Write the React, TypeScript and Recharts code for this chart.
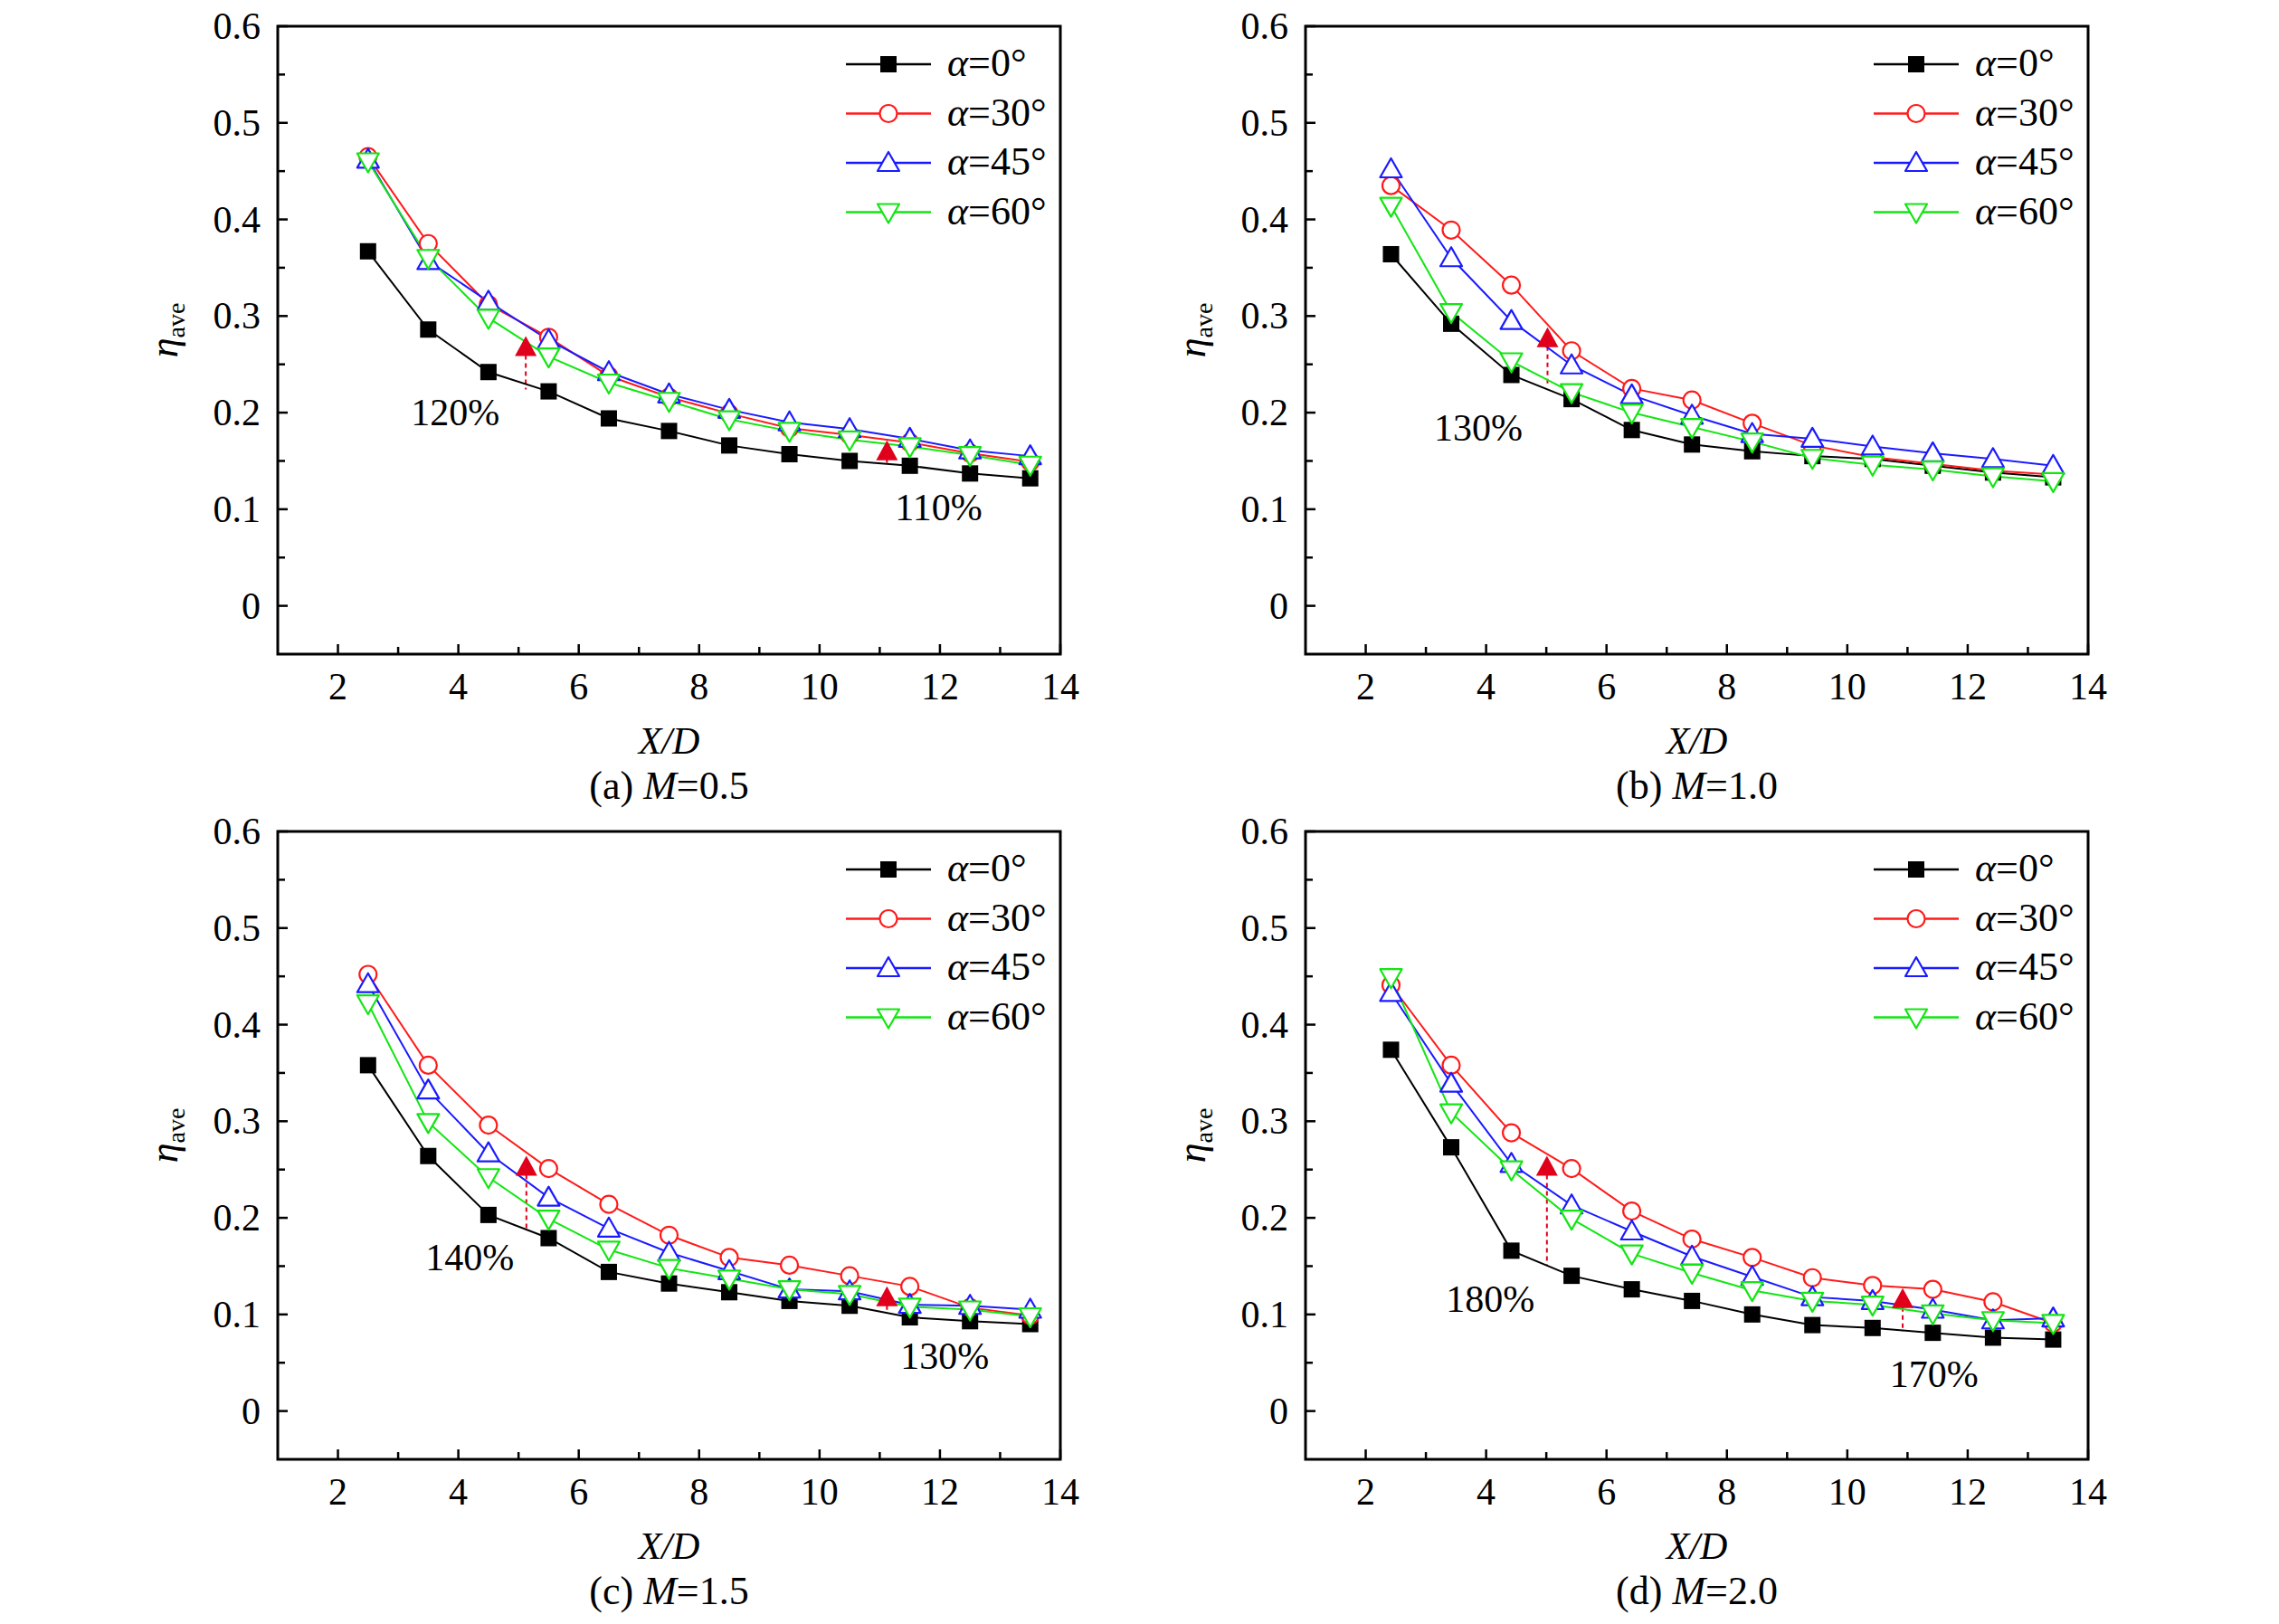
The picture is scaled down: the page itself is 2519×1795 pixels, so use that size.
import React from 'react';
import { LineChart, Line, XAxis, YAxis, ReferenceArea, ReferenceDot, ReferenceLine } from 'recharts';

const FONT = '"Liberation Serif", "Times New Roman", serif';

const SERIES_LABELS = ['=0°', '=30°', '=45°', '=60°'];
const SERIES_COLORS = ['#000000', '#ff1a1a', '#1a1aff', '#12e612'];
const ARROW_RED = '#e0001b';

const X_TICKS = [2, 4, 6, 8, 10, 12, 14];
const X_MINOR = [3, 5, 7, 9, 11, 13];
const Y_TICKS = [0, 0.1, 0.2, 0.3, 0.4, 0.5, 0.6];
const Y_MINOR = [0.05, 0.15, 0.25, 0.35, 0.45, 0.55];

// measuring stations, as plotted
const XD_AC = [2.5, 3.5, 4.5, 5.5, 6.5, 7.5, 8.5, 9.5, 10.5, 11.5, 12.5, 13.5];
const XD_BD = [2.42, 3.42, 4.42, 5.42, 6.42, 7.42, 8.42, 9.42, 10.42, 11.42, 12.42, 13.42];

// (a) M=0.5
const A_ETA0 = [0.367, 0.286, 0.242, 0.222, 0.194, 0.181, 0.166, 0.157, 0.15, 0.145, 0.137, 0.132];
const A_ETA30 = [0.465, 0.375, 0.312, 0.278, 0.238, 0.216, 0.199, 0.184, 0.177, 0.169, 0.158, 0.149];
const A_ETA45 = [0.462, 0.357, 0.315, 0.275, 0.242, 0.219, 0.203, 0.19, 0.183, 0.173, 0.161, 0.155];
const A_ETA60 = [0.46, 0.36, 0.298, 0.258, 0.231, 0.212, 0.193, 0.181, 0.172, 0.165, 0.156, 0.146];

// (b) M=1.0
const B_ETA0 = [0.364, 0.292, 0.239, 0.214, 0.182, 0.167, 0.16, 0.155, 0.152, 0.145, 0.138, 0.133];
const B_ETA30 = [0.435, 0.389, 0.332, 0.264, 0.225, 0.213, 0.189, 0.166, 0.154, 0.147, 0.14, 0.136];
const B_ETA45 = [0.452, 0.36, 0.295, 0.249, 0.218, 0.197, 0.178, 0.173, 0.165, 0.158, 0.152, 0.145];
const B_ETA60 = [0.414, 0.304, 0.253, 0.221, 0.2, 0.185, 0.17, 0.153, 0.146, 0.141, 0.134, 0.129];

// (c) M=1.5
const C_ETA0 = [0.358, 0.264, 0.203, 0.179, 0.144, 0.132, 0.123, 0.114, 0.109, 0.097, 0.093, 0.09];
const C_ETA30 = [0.452, 0.358, 0.296, 0.251, 0.214, 0.182, 0.159, 0.151, 0.14, 0.129, 0.107, 0.099];
const C_ETA45 = [0.442, 0.332, 0.267, 0.221, 0.189, 0.164, 0.145, 0.126, 0.124, 0.11, 0.109, 0.105];
const C_ETA60 = [0.422, 0.299, 0.242, 0.199, 0.167, 0.148, 0.137, 0.126, 0.121, 0.108, 0.105, 0.098];

// (d) M=2.0
const D_ETA0 = [0.374, 0.273, 0.166, 0.14, 0.126, 0.114, 0.1, 0.089, 0.086, 0.081, 0.076, 0.074];
const D_ETA30 = [0.441, 0.358, 0.288, 0.251, 0.207, 0.178, 0.159, 0.138, 0.13, 0.126, 0.113, 0.091];
const D_ETA45 = [0.433, 0.339, 0.256, 0.213, 0.186, 0.16, 0.139, 0.118, 0.114, 0.105, 0.094, 0.096];
const D_ETA60 = [0.449, 0.309, 0.25, 0.199, 0.163, 0.143, 0.125, 0.114, 0.11, 0.101, 0.094, 0.091];

// red arrows: x, arrow head value, foot value
const A_ARROWS = [{ x: 5.12, top: 0.268, bottom: 0.224 }, { x: 11.12, top: 0.16, bottom: 0.148 }];
const B_ARROWS = [{ x: 5.02, top: 0.277, bottom: 0.227 }];
const C_ARROWS = [{ x: 5.13, top: 0.253, bottom: 0.186 }, { x: 11.12, top: 0.118, bottom: 0.102 }];
const D_ARROWS = [{ x: 5.01, top: 0.253, bottom: 0.151 }, { x: 10.92, top: 0.116, bottom: 0.082 }];

const A_NOTES = [{ x: 3.95, y: 0.2, text: '120%' }, { x: 11.98, y: 0.102, text: '110%' }];
const B_NOTES = [{ x: 3.87, y: 0.184, text: '130%' }];
const C_NOTES = [{ x: 4.19, y: 0.159, text: '140%' }, { x: 12.08, y: 0.057, text: '130%' }];
const D_NOTES = [{ x: 4.07, y: 0.116, text: '180%' }, { x: 11.44, y: 0.038, text: '170%' }];

const PANELS = [
  { col: 0, row: 0, tag: '(a)', m: '0.5', xs: XD_AC, eta: [A_ETA0, A_ETA30, A_ETA45, A_ETA60], arrows: A_ARROWS, notes: A_NOTES },
  { col: 1, row: 0, tag: '(b)', m: '1.0', xs: XD_BD, eta: [B_ETA0, B_ETA30, B_ETA45, B_ETA60], arrows: B_ARROWS, notes: B_NOTES },
  { col: 0, row: 1, tag: '(c)', m: '1.5', xs: XD_AC, eta: [C_ETA0, C_ETA30, C_ETA45, C_ETA60], arrows: C_ARROWS, notes: C_NOTES },
  { col: 1, row: 1, tag: '(d)', m: '2.0', xs: XD_BD, eta: [D_ETA0, D_ETA30, D_ETA45, D_ETA60], arrows: D_ARROWS, notes: D_NOTES }
];

const PAGE_W = 2519;
const PAGE_H = 1795;
const COL_STEP = 1136;
const ROW_STEP = 890;
const CHART_LEFT = 100;
const CHART_W = 1150;
const CHART_H = 890;
const PLOT = { left: 307, top: 29, width: 865, height: 694 };
const Y_AXIS_W = 60;
const X_AXIS_H = 40;

const MARGIN = {
  top: PLOT.top,
  left: PLOT.left - CHART_LEFT - Y_AXIS_W,
  right: CHART_W - (PLOT.left - CHART_LEFT) - PLOT.width,
  bottom: CHART_H - PLOT.top - PLOT.height - X_AXIS_H
};

function marker(i: number, cx: number, cy: number, key?: string) {
  const c = SERIES_COLORS[i];
  if (i === 0) return <rect key={key} x={cx - 9} y={cy - 9} width={18} height={18} fill={c} />;
  if (i === 1) return <circle key={key} cx={cx} cy={cy} r={9.5} fill="#fff" stroke={c} strokeWidth={2.2} />;
  if (i === 2)
    return (
      <polygon
        key={key}
        points={`${cx},${cy - 12} ${cx - 12},${cy + 9} ${cx + 12},${cy + 9}`}
        fill="#fff"
        stroke={c}
        strokeWidth={2.2}
        strokeLinejoin="round"
      />
    );
  return (
    <polygon
      key={key}
      points={`${cx},${cy + 12} ${cx - 12},${cy - 9} ${cx + 12},${cy - 9}`}
      fill="#fff"
      stroke={c}
      strokeWidth={2.2}
      strokeLinejoin="round"
    />
  );
}

function fmtY(v: number) {
  return v === 0 ? '0' : v.toFixed(1);
}

function YTick(props: any) {
  const { x, y, payload } = props;
  const major = Y_TICKS.includes(payload.value);
  return (
    <g>
      <line x1={x} x2={x + (major ? 11 : 8)} y1={y} y2={y} stroke="#000" strokeWidth={2.5} />
      {major && (
        <text x={x - 19} y={y} textAnchor="end" dominantBaseline="central" fontSize={42} fontFamily={FONT} fill="#000">
          {fmtY(payload.value)}
        </text>
      )}
    </g>
  );
}

function XTick(props: any) {
  const { x, y, payload } = props;
  const major = X_TICKS.includes(payload.value);
  return (
    <g>
      <line x1={x} x2={x} y1={y} y2={y - (major ? 11 : 8)} stroke="#000" strokeWidth={2.5} />
      {major && (
        <text x={x} y={y + 36} textAnchor="middle" dominantBaseline="central" fontSize={42} fontFamily={FONT} fill="#000">
          {payload.value}
        </text>
      )}
    </g>
  );
}

function Panel({ p }: { p: (typeof PANELS)[number] }) {
  const data = p.xs.map((x, i) => ({ x, s0: p.eta[0][i], s1: p.eta[1][i], s2: p.eta[2][i], s3: p.eta[3][i] }));
  const xTicks = [...X_TICKS, ...X_MINOR].sort((a, b) => a - b);
  const yTicks = [...Y_TICKS, ...Y_MINOR].sort((a, b) => a - b);

  return (
    <div
      style={{
        position: 'absolute',
        left: p.col * COL_STEP + CHART_LEFT,
        top: p.row * ROW_STEP,
        width: CHART_W,
        height: CHART_H
      }}
    >
      <LineChart width={CHART_W} height={CHART_H} data={data} margin={MARGIN}>
        <XAxis
          dataKey="x"
          type="number"
          domain={[1, 14]}
          allowDataOverflow
          ticks={xTicks}
          interval={0}
          height={X_AXIS_H}
          tickSize={0}
          tickMargin={0}
          tickLine={false}
          axisLine={false}
          tick={(props: any) => <XTick {...props} />}
        />
        <YAxis
          type="number"
          domain={[-0.05, 0.6]}
          allowDataOverflow
          ticks={yTicks}
          interval={0}
          width={Y_AXIS_W}
          tickSize={0}
          tickMargin={0}
          tickLine={false}
          axisLine={false}
          tick={(props: any) => <YTick {...props} />}
        />
        <ReferenceArea x1={1} x2={14} y1={-0.05} y2={0.6} fill="none" stroke="#000" strokeWidth={3} ifOverflow="visible" />
        {p.arrows.map((a, k) => (
          <ReferenceLine
            key={`al${k}`}
            segment={[
              { x: a.x, y: a.top },
              { x: a.x, y: a.bottom }
            ]}
            stroke={ARROW_RED}
            strokeWidth={2}
            strokeDasharray="5 4"
            ifOverflow="visible"
          />
        ))}
        {[0, 1, 2, 3].map((i) => (
          <Line
            key={i}
            type="linear"
            dataKey={`s${i}`}
            stroke={SERIES_COLORS[i]}
            strokeWidth={2}
            dot={(d: any) => marker(i, d.cx, d.cy, `m${i}-${d.index}`)}
            activeDot={false}
            legendType="none"
            isAnimationActive={false}
          />
        ))}
        {p.arrows.map((a, k) => (
          <ReferenceDot
            key={`ah${k}`}
            x={a.x}
            y={a.top}
            r={12}
            ifOverflow="visible"
            shape={(s: any) => (
              <polygon
                points={`${s.cx},${s.cy - 12} ${s.cx - 12},${s.cy + 10} ${s.cx + 12},${s.cy + 10}`}
                fill={ARROW_RED}
              />
            )}
          />
        ))}
        {p.notes.map((n, k) => (
          <ReferenceDot
            key={`n${k}`}
            x={n.x}
            y={n.y}
            r={1}
            ifOverflow="visible"
            shape={(s: any) => (
              <text
                x={s.cx}
                y={s.cy}
                textAnchor="middle"
                dominantBaseline="central"
                fontSize={42}
                fontFamily={FONT}
                fill="#000"
              >
                {n.text}
              </text>
            )}
          />
        ))}
      </LineChart>
    </div>
  );
}

function PanelText({ p }: { p: (typeof PANELS)[number] }) {
  const ox = p.col * COL_STEP;
  const oy = p.row * ROW_STEP;
  const midX = ox + PLOT.left + PLOT.width / 2;
  return (
    <g fontFamily={FONT} fill="#000">
      {SERIES_LABELS.map((label, i) => {
        const ly = oy + 71 + i * 54.5;
        return (
          <g key={i}>
            <line x1={ox + 935} x2={ox + 1029} y1={ly} y2={ly} stroke={SERIES_COLORS[i]} strokeWidth={2.5} />
            {marker(i, ox + 982, ly)}
            <text x={ox + 1047} y={ly + 13} fontSize={44}>
              <tspan fontStyle="italic">α</tspan>
              {label}
            </text>
          </g>
        );
      })}
      <text transform={`translate(${ox + 196},${oy + 365}) rotate(-90)`} textAnchor="middle" fontSize={44}>
        <tspan fontStyle="italic">η</tspan>
        <tspan fontSize={28} dy={8}>
          ave
        </tspan>
      </text>
      <text x={midX} y={oy + 833} textAnchor="middle" fontSize={42} fontStyle="italic">
        X/D
      </text>
      <text x={midX} y={oy + 883} textAnchor="middle" fontSize={44}>
        {`${p.tag} `}
        <tspan fontStyle="italic">M</tspan>
        {`=${p.m}`}
      </text>
    </g>
  );
}

export default function App() {
  return (
    <div
      style={{
        position: 'absolute',
        left: 0,
        top: 0,
        width: PAGE_W,
        height: PAGE_H,
        background: '#fff',
        fontFamily: FONT
      }}
    >
      {PANELS.map((p) => (
        <Panel key={p.tag} p={p} />
      ))}
      <svg
        width={PAGE_W}
        height={PAGE_H}
        style={{ position: 'absolute', left: 0, top: 0, pointerEvents: 'none' }}
      >
        {PANELS.map((p) => (
          <PanelText key={p.tag} p={p} />
        ))}
      </svg>
    </div>
  );
}
